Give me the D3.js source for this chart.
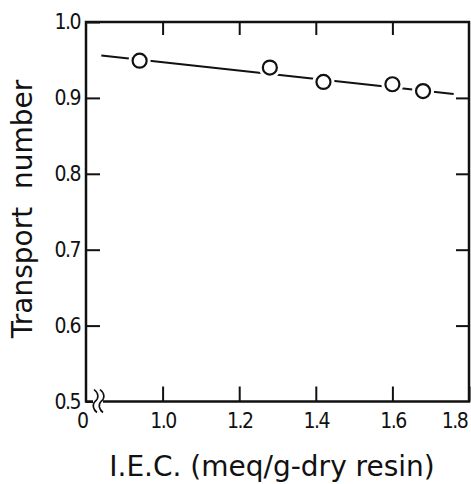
<!DOCTYPE html>
<html>
<head>
<meta charset="utf-8">
<script src="https://cdn.jsdelivr.net/npm/d3@7"></script>
<style>
  body { margin: 0; background: #fff; }
  svg { display: block; }
  text { font-family: "DejaVu Sans", sans-serif; fill: #111; }
</style>
</head>
<body>
<script>
// data
const iec = [0.94, 1.28, 1.42, 1.60, 1.68]
const transport = [0.949, 0.940, 0.921, 0.918, 0.909]
// fitted line end points
const fitIec = [0.84, 1.76]
const fitTransport = [0.956, 0.905]
const xTicks = [1.0, 1.2, 1.4, 1.6, 1.8]
const yTicks = [0.5, 0.6, 0.7, 0.8, 0.9, 1.0]
const originLabel = "0"

const width = 471, height = 484
const margin = {top: 22, right: 2, bottom: 82.5, left: 86}

const svg = d3.select("body").append("svg")
    .attr("width", width)
    .attr("height", height)

const xScale = d3.scaleLinear()
    .domain([0.8, 1.8])
    .range([margin.left, width - margin.right])

const yScale = d3.scaleLinear()
    .domain([0.5, 1.0])
    .range([height - margin.bottom, margin.top])

const x0 = xScale.range()[0], x1 = xScale.range()[1]
const y0 = yScale.range()[0], y1 = yScale.range()[1]

// axes with inward ticks
const fmt = d3.format(".1f")
const tickFont = "21px"

const axBottom = svg.append("g")
    .attr("transform", `translate(0,${y0})`)
    .call(d3.axisBottom(xScale).tickValues(xTicks).tickFormat(fmt)
        .tickSizeInner(-15).tickSizeOuter(0).tickPadding(12))
const axTop = svg.append("g")
    .attr("transform", `translate(0,${y1})`)
    .call(d3.axisTop(xScale).tickValues(xTicks.slice(0, 4)).tickFormat("")
        .tickSizeInner(-13).tickSizeOuter(0))
const axLeft = svg.append("g")
    .attr("transform", `translate(${x0},0)`)
    .call(d3.axisLeft(yScale).tickValues(yTicks).tickFormat(fmt)
        .tickSizeInner(-14).tickSizeOuter(0).tickPadding(6))
const axRight = svg.append("g")
    .attr("transform", `translate(${x1},0)`)
    .call(d3.axisRight(yScale).tickValues(yTicks.slice(1, 5)).tickFormat("")
        .tickSizeInner(-13).tickSizeOuter(0))

;[axBottom, axTop, axLeft, axRight].forEach(g => {
  g.select(".domain").remove()
  g.selectAll(".tick line").attr("stroke", "#111").attr("stroke-width", 2)
  g.selectAll(".tick text")
      .style("font-size", tickFont)
      .style("font-stretch", "condensed")
      .attr("fill", "#111")
      .attr("letter-spacing", -1.5)
})
// last x label sits inside the right edge
axBottom.selectAll(".tick text").filter(d => d === 1.8).attr("dx", -15)

// frame
svg.append("rect")
    .attr("x", x0).attr("y", y1)
    .attr("width", x1 - x0).attr("height", y0 - y1)
    .attr("fill", "none")
    .attr("stroke", "#111")
    .attr("stroke-width", 2.5)

// axis break near the origin
svg.append("rect")
    .attr("x", x0 + 7).attr("y", y0 - 3)
    .attr("width", 10).attr("height", 6)
    .attr("fill", "#fff")
const brk = d => `M${d},${y0 - 12} C${d + 5},${y0 - 8} ${d + 5},${y0 - 3} ${d + 1},${y0} C${d - 2},${y0 + 3} ${d - 1},${y0 + 8} ${d + 3},${y0 + 11}`
;[x0 + 8, x0 + 14].forEach(d => {
  svg.append("path")
      .attr("d", brk(d))
      .attr("fill", "none")
      .attr("stroke", "#111")
      .attr("stroke-width", 1.6)
})
svg.append("text")
    .attr("x", x0 - 3)
    .attr("y", y0 + 12)
    .attr("dy", "0.71em")
    .attr("text-anchor", "middle")
    .style("font-size", tickFont)
    .style("font-stretch", "condensed")
    .text(originLabel)

// fitted line
const fit = fitIec.map((v, i) => ({x: v, y: fitTransport[i]}))
svg.append("path")
    .datum(fit)
    .attr("d", d3.line().x(d => xScale(d.x)).y(d => yScale(d.y)))
    .attr("fill", "none")
    .attr("stroke", "#111")
    .attr("stroke-width", 2)

// points, with a white halo that breaks the line
const pts = iec.map((v, i) => ({x: v, y: transport[i]}))
svg.selectAll(".halo")
    .data(pts)
    .enter()
    .append("circle")
    .attr("class", "halo")
    .attr("cx", d => xScale(d.x))
    .attr("cy", d => yScale(d.y))
    .attr("r", 11)
    .attr("fill", "#fff")
svg.selectAll(".dot")
    .data(pts)
    .enter()
    .append("circle")
    .attr("class", "dot")
    .attr("cx", d => xScale(d.x))
    .attr("cy", d => yScale(d.y))
    .attr("r", 7)
    .attr("fill", "#fff")
    .attr("stroke", "#111")
    .attr("stroke-width", 2.2)

// axis titles
svg.append("text")
    .attr("x", 272)
    .attr("y", 476)
    .attr("text-anchor", "middle")
    .style("font-size", "28px")
    .text("I.E.C. (meq/g-dry resin)")

svg.append("text")
    .attr("transform", `translate(32,209) rotate(-90)`)
    .attr("text-anchor", "middle")
    .style("font-size", "28px")
    .style("white-space", "pre")
    .text("Transport  number")
</script>
</body>
</html>
